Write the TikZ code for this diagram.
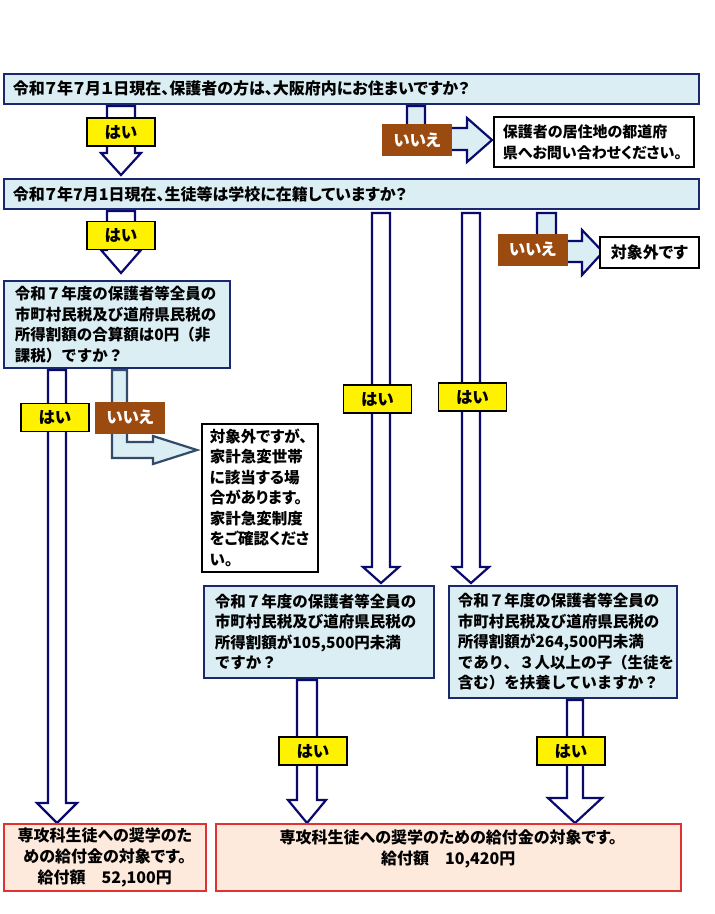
\documentclass[tikz,border=0pt]{standalone}
\usepackage{fontspec}
\setmainfont{Noto Sans CJK JP}
\newfontfamily\jpprop{Noto Sans CJK JP}[RawFeature=+palt]
\definecolor{qfill}{RGB}{219,238,244}
\definecolor{qline}{RGB}{28,40,110}
\definecolor{aline}{RGB}{10,10,110}
\definecolor{nline}{RGB}{50,75,105}
\definecolor{nobrown}{RGB}{155,75,15}
\definecolor{rline}{RGB}{225,50,50}
\definecolor{rfill}{RGB}{253,234,220}
\tikzset{
  pics/darr/.style n args={5}{code={
    \draw[#5] (-#1,0) -- (-#1,{#4-#3}) -- (-#2,{#4-#3}) -- (0,#4) -- (#2,{#4-#3}) -- (#1,{#4-#3}) -- (#1,0) -- cycle;
  }},
  harrow/.style={draw=aline, fill=white, line width=2.2pt, line join=miter},
  narrow/.style={draw=aline, fill=qfill, line width=2.2pt, line join=miter},
  narrowb/.style={draw=nline, fill=qfill, line width=2.2pt, line join=miter},
  qbox/.style={draw=qline, fill=qfill, line width=1.8pt, anchor=north west, inner ysep=0pt, align=left},
  wbox/.style={draw=black, fill=white, line width=1.6pt, anchor=north west, inner ysep=0pt, align=left},
  rbox/.style={draw=rline, fill=rfill, line width=1.6pt, anchor=north west, inner ysep=0pt, align=center},
  sz/.style n args={2}{minimum width=#1pt, minimum height=#2pt},
  yes/.style={fill=yellow, draw=black, line width=1.3pt, minimum width=68pt, minimum height=28pt, inner sep=0pt, font=\jpprop\fontsize{16.5}{18}\selectfont\bfseries},
  no/.style={fill=nobrown, text=white, minimum width=70pt, minimum height=32pt, inner sep=0pt, font=\jpprop\fontsize{16.5}{18}\selectfont\bfseries},
  pfont/.style={font=\jpprop\fontsize{16}{21}\selectfont\bfseries},
  mfont/.style={font=\fontsize{15.5}{20.5}\selectfont\bfseries}
}
\begin{document}
\begin{tikzpicture}[x=1pt,y=-1pt]
\useasboundingbox (0,0) rectangle (715,914);
% ---------- arrows ----------
\pic at (121,106) {darr={14}{20}{22}{69}{harrow}};
\pic at (121,211) {darr={14}{20}{23}{62}{harrow}};
\pic at (381,213) {darr={9}{18}{16}{370}{harrow}};
\pic at (471,213) {darr={9}{18}{16}{370}{harrow}};
\pic at (57,370) {darr={9}{20}{20}{453}{harrow}};
\pic at (307,680) {darr={10}{19}{23}{143}{harrow}};
\pic at (575,700) {darr={8}{27}{25}{123}{harrow}};
\draw[narrow] (425,106) -- (407,106) -- (407,150) -- (467,150) -- (467,162) -- (492,140) -- (467,118) -- (467,128) -- (425,128) -- cycle;
\draw[narrow] (556,213) -- (537,213) -- (537,262) -- (582,262) -- (582,275) -- (603,252) -- (582,230) -- (582,241) -- (556,241) -- cycle;
\draw[narrowb] (127,370) -- (112,370) -- (112,458) -- (153,458) -- (153,464) -- (197,450) -- (153,436) -- (153,442) -- (127,442) -- cycle;
% ---------- boxes ----------
\node[qbox, pfont, sz={695}{30}, inner xsep=9pt, text width=677pt] (q1) at (3,73)
  {令和７年７月１日現在、保護者の方は、大阪府内にお住まいですか？};
\node[wbox, font=\jpprop\fontsize{15}{21}\selectfont\bfseries, sz={200}{50}, inner xsep=9pt, text width=182pt] (r0) at (493,116)
  {保護者の居住地の都道府\\県へお問い合わせください。};
\node[qbox, pfont, sz={695}{30}, inner xsep=9pt, text width=677pt] (q2) at (3,178)
  {令和７年7月1日現在、生徒等は学校に在籍していますか？};
\node[wbox, pfont, sz={99}{31}, inner xsep=4pt, text width=91pt, align=center] (o1) at (599,236)
  {対象外です};
\node[qbox, mfont, sz={226}{87}, inner xsep=11pt, text width=204pt] (q3) at (3,280)
  {令和７年度の保護者等全員の\\市町村民税及び道府県民税の\\所得割額の合算額は0円（非\\課税）ですか？};
\node[wbox, font=\jpprop\fontsize{15.5}{20.5}\selectfont\bfseries, sz={116}{148}, inner xsep=8pt, text width=100pt] (o2) at (201,423)
  {対象外ですが、\\家計急変世帯\\に該当する場\\合があります。\\家計急変制度\\をご確認くださ\\い。};
\node[qbox, mfont, sz={230}{92}, inner xsep=11pt, text width=208pt] (q4) at (203,585)
  {令和７年度の保護者等全員の\\市町村民税及び道府県民税の\\所得割額が105,500円未満\\ですか？};
\node[qbox, mfont, sz={228}{112}, inner xsep=9pt, text width=210pt] (q5) at (448,585)
  {令和７年度の保護者等全員の\\市町村民税及び道府県民税の\\所得割額が264,500円未満\\であり、３人以上の子（生徒を\\含む）を扶養していますか？};
\node[rbox, pfont, sz={202}{67}, inner xsep=5pt, text width=192pt] (e1) at (3,823)
  {専攻科生徒への奨学のた\\めの給付金の対象です。\\給付額　52,100円};
\node[rbox, pfont, sz={465}{67}, inner xsep=10pt, text width=445pt] (e2) at (215,823)
  {専攻科生徒への奨学のための給付金の対象です。\\給付額　10,420円\\\mbox{}};
% ---------- labels ----------
\node[yes] (y1) at (121,132) {はい};
\node[no] (n1) at (417,140) {いいえ};
\node[yes] (y2) at (121,235.5) {はい};
\node[no] (n2) at (532.5,249.5) {いいえ};
\node[yes] (y3) at (55,417.5) {はい};
\node[no] (n3) at (130,417.5) {いいえ};
\node[yes] (y4) at (377.5,399) {はい};
\node[yes] (y5) at (472.5,397) {はい};
\node[yes] (y6) at (313,751) {はい};
\node[yes] (y7) at (571,751) {はい};
\end{tikzpicture}
\end{document}
